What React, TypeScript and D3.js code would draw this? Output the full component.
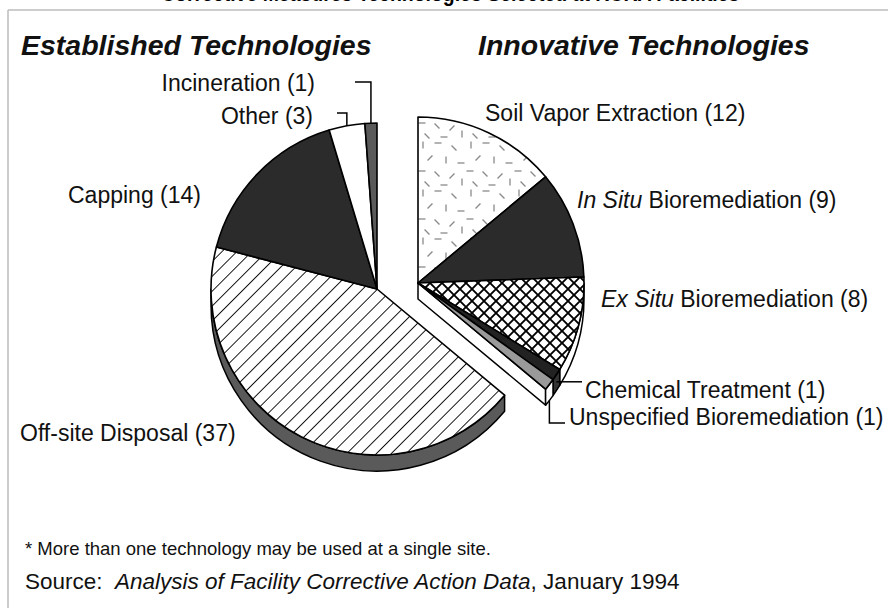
import React from 'react';
import * as d3 from 'd3';

const W = 888;
const H = 608;

// ---- data ----
const innovativeLabels = ['Soil Vapor Extraction', 'In Situ Bioremediation', 'Ex Situ Bioremediation', 'Chemical Treatment', 'Unspecified Bioremediation'];
const innovativeValues = [12, 9, 8, 1, 1];
const establishedLabels = ['Off-site Disposal', 'Capping', 'Other', 'Incineration'];
const establishedValues = [37, 14, 3, 1];
const groupTitles = ['Established Technologies', 'Innovative Technologies'];
const footnote = '* More than one technology may be used at a single site.';
const sourceParts = ['Source:  ', 'Analysis of Facility Corrective Action Data', ', January 1994'];
const topTitle = 'Corrective Measures Technologies Selected at RCRA Facilities*';

// ---- layout / style ----
const FONT = '"Liberation Sans", Arial, Helvetica, sans-serif';
const R = 166;
const DEPTH = 16;
const estCenter = { x: 377, y: 289 };
const innCenter = { x: 418, y: 283 };

const fills: Record<string, string> = {
  'Soil Vapor Extraction': 'url(#speckle)',
  'In Situ Bioremediation': '#2b2b2b',
  'Ex Situ Bioremediation': 'url(#cross)',
  'Chemical Treatment': '#222222',
  'Unspecified Bioremediation': '#9a9a9a',
  'Off-site Disposal': 'url(#diag)',
  'Capping': '#2b2b2b',
  'Other': '#ffffff',
  'Incineration': '#5a5a5a',
};
const wallFills: Record<string, string> = {
  'Ex Situ Bioremediation': '#ffffff',
  'Chemical Treatment': '#333333',
  'Unspecified Bioremediation': '#ffffff',
  'Off-site Disposal': '#5a5a5a',
};

// speckle dashes for the "Soil Vapor Extraction" texture tile (style only)
const speckles: [number, number, number][] = [
  [5, 6, 90], [20, 4, 0], [36, 9, 45], [12, 19, 135], [28, 21, 90],
  [43, 24, 0], [4, 32, 0], [19, 35, 45], [34, 37, 135], [9, 45, 45],
  [26, 46, 0], [44, 43, 90],
];

const names = [...innovativeLabels, ...establishedLabels];
const values = [...innovativeValues, ...establishedValues];
const isInnovative = (i: number) => i < innovativeLabels.length;

function pt(c: { x: number; y: number }, a: number, r: number, dy = 0) {
  return [c.x + Math.sin(a) * r, c.y - Math.cos(a) * r + dy];
}

function wallPath(c: { x: number; y: number }, a0: number, a1: number) {
  const lo = Math.max(a0, Math.PI / 2);
  const hi = Math.min(a1, (3 * Math.PI) / 2);
  if (hi <= lo) return null;
  const p = d3.path();
  const s = pt(c, lo, R);
  p.moveTo(s[0], s[1]);
  p.arc(c.x, c.y, R, lo - Math.PI / 2, hi - Math.PI / 2, false);
  const e = pt(c, hi, R, DEPTH);
  p.lineTo(e[0], e[1]);
  p.arc(c.x, c.y + DEPTH, R, hi - Math.PI / 2, lo - Math.PI / 2, true);
  p.closePath();
  return p.toString();
}

export default function App() {
  const pie = d3.pie<number>().sort(null).value((d) => d).startAngle(0).endAngle(2 * Math.PI);
  const arcs = pie(values);
  const arcGen = d3.arc<d3.PieArcDatum<number>>().innerRadius(0).outerRadius(R);

  const center = (i: number) => (isInnovative(i) ? innCenter : estCenter);
  const byName = (n: string) => arcs[names.indexOf(n)];
  const mid = (a: d3.PieArcDatum<number>) => (a.startAngle + a.endAngle) / 2;

  // radial side face at the end of the innovative group
  const lastInn = arcs[innovativeLabels.length - 1];
  const ea = lastInn.endAngle;
  const pe = pt(innCenter, ea, R);
  const sideFace = `M${innCenter.x},${innCenter.y}L${pe[0]},${pe[1]}L${pe[0]},${pe[1] + DEPTH}L${innCenter.x},${innCenter.y + DEPTH}Z`;

  // leader anchors
  const inc = byName('Incineration');
  const incTop = pt(estCenter, mid(inc), R);
  const oth = byName('Other');
  const othTop = pt(estCenter, mid(oth), R);
  const chem = byName('Chemical Treatment');
  const chemPt = pt(innCenter, mid(chem), R, DEPTH * 0.45);
  const uns = byName('Unspecified Bioremediation');
  const unsPt = pt(innCenter, mid(uns), R, DEPTH);

  const labelStyle = { fontFamily: FONT, fontSize: 23, fill: '#111' } as const;
  const titleStyle = { fontFamily: FONT, fontSize: 28.5, fontWeight: 'bold', fontStyle: 'italic', fill: '#111' } as const;
  const noteStyle = { fontFamily: FONT, fontSize: 18.5, fill: '#111' } as const;
  const sourceStyle = { fontFamily: FONT, fontSize: 22.5, fill: '#111' } as const;

  return (
    <svg width={W} height={H} style={{ position: 'absolute', left: 0, top: 0, background: '#fff' }}>
      <defs>
        <pattern id="diag" patternUnits="userSpaceOnUse" width={10.5} height={10} patternTransform="rotate(45)">
          <rect width={10.5} height={10} fill="#fff" />
          <line x1={0} y1={0} x2={0} y2={10} stroke="#000" strokeWidth={1.8} />
        </pattern>
        <pattern id="cross" patternUnits="userSpaceOnUse" width={12} height={12}>
          <rect width={12} height={12} fill="#fff" />
          <path d="M0,0L12,12M12,0L0,12M-1,11L1,13M11,-1L13,1" stroke="#000" strokeWidth={1.9} />
        </pattern>
        <pattern id="speckle" patternUnits="userSpaceOnUse" width={48} height={48}>
          <rect width={48} height={48} fill="#fff" />
          {speckles.map(([x, y, a], k) => (
            <line key={k} x1={x - 3.5} y1={y} x2={x + 3.5} y2={y} stroke="#8a8a8a" strokeWidth={1.3}
              transform={`rotate(${a},${x},${y})`} />
          ))}
        </pattern>
      </defs>

      {/* frame */}
      <line x1={8} y1={10} x2={W} y2={10} stroke="#bdbdbd" strokeWidth={1.5} />
      <line x1={8} y1={10} x2={8} y2={H} stroke="#bdbdbd" strokeWidth={1.5} />
      <text x={161} y={1} textLength={586} lengthAdjust="spacingAndGlyphs"
        style={{ fontFamily: FONT, fontSize: 22, fontWeight: 'bold' }}>{topTitle}</text>

      {/* group titles */}
      <text x={21} y={55} style={titleStyle}>{groupTitles[0]}</text>
      <text x={478} y={55} style={titleStyle}>{groupTitles[1]}</text>

      {/* walls */}
      <path d={sideFace} fill="#fff" stroke="#000" strokeWidth={1.5} strokeLinejoin="round" />
      {arcs.map((a, i) => {
        const d = wallPath(center(i), a.startAngle, a.endAngle);
        if (!d) return null;
        return <path key={'w' + i} d={d} fill={wallFills[names[i]] ?? '#fff'} stroke="#000" strokeWidth={1.5} strokeLinejoin="round" />;
      })}

      {/* tops */}
      {arcs.map((a, i) => {
        const c = center(i);
        return (
          <path key={'t' + i} d={arcGen(a) ?? ''} transform={`translate(${c.x},${c.y})`}
            fill={fills[names[i]]} stroke="#000" strokeWidth={1.6} strokeLinejoin="round" />
        );
      })}

      {/* leaders */}
      <g fill="none" stroke="#000" strokeWidth={1.5}>
        <polyline points={`355,82 ${incTop[0]},82 ${incTop[0]},${incTop[1]}`} />
        <polyline points={`337,113 ${othTop[0]},113 ${othTop[0]},${othTop[1]}`} />
        <polyline points={`${chemPt[0]},${chemPt[1]} 582,${chemPt[1]}`} />
        <polyline points={`${unsPt[0]},${unsPt[1]} ${unsPt[0]},423 565,423`} />
      </g>

      {/* labels */}
      <text x={315} y={91} textAnchor="end" style={labelStyle}>{`${establishedLabels[3]} (${establishedValues[3]})`}</text>
      <text x={313} y={124} textAnchor="end" style={labelStyle}>{`${establishedLabels[2]} (${establishedValues[2]})`}</text>
      <text x={68} y={203} style={labelStyle}>{`${establishedLabels[1]} (${establishedValues[1]})`}</text>
      <text x={20} y={441} style={labelStyle}>{`${establishedLabels[0]} (${establishedValues[0]})`}</text>

      <text x={485} y={121} style={labelStyle}>{`${innovativeLabels[0]} (${innovativeValues[0]})`}</text>
      <text x={577} y={208} style={labelStyle}>
        <tspan fontStyle="italic">{innovativeLabels[1].split(' ').slice(0, 2).join(' ')}</tspan>
        {` ${innovativeLabels[1].split(' ').slice(2).join(' ')} (${innovativeValues[1]})`}
      </text>
      <text x={601} y={307} style={labelStyle}>
        <tspan fontStyle="italic">{innovativeLabels[2].split(' ').slice(0, 2).join(' ')}</tspan>
        {` ${innovativeLabels[2].split(' ').slice(2).join(' ')} (${innovativeValues[2]})`}
      </text>
      <text x={585} y={398} style={labelStyle}>{`${innovativeLabels[3]} (${innovativeValues[3]})`}</text>
      <text x={569} y={425} style={labelStyle}>{`${innovativeLabels[4]} (${innovativeValues[4]})`}</text>

      {/* footnotes */}
      <text x={25} y={555} style={noteStyle}>{footnote}</text>
      <text x={25} y={589} style={sourceStyle} xmlSpace="preserve">
        {sourceParts[0]}
        <tspan fontStyle="italic">{sourceParts[1]}</tspan>
        {sourceParts[2]}
      </text>
    </svg>
  );
}
